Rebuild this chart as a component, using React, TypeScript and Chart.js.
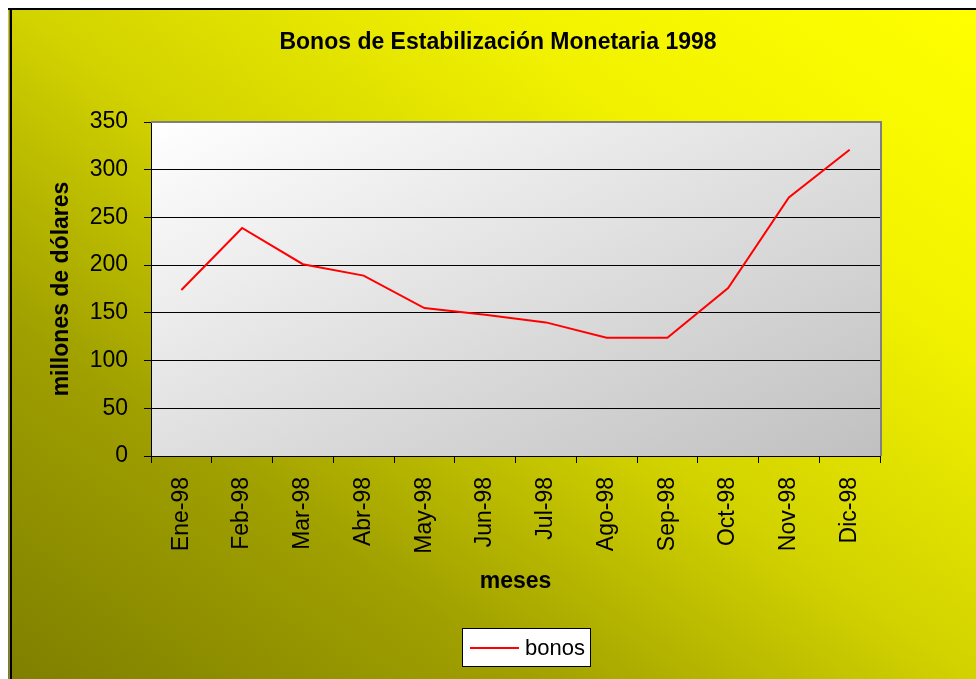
import React, { useEffect, useRef } from "react";
import { Chart, registerables } from "chart.js";

Chart.register(...registerables);

// ---- data ----
const TITLE = "Bonos de Estabilización Monetaria 1998";
const Y_TITLE = "millones de dólares";
const X_TITLE = "meses";
const SERIES_LABEL = "bonos";
const MONTHS = ["Ene-98", "Feb-98", "Mar-98", "Abr-98", "May-98", "Jun-98", "Jul-98", "Ago-98", "Sep-98", "Oct-98", "Nov-98", "Dic-98"];
const BONOS = [174, 239, 201, 189, 155, 148, 140, 124, 124, 176, 271, 321];
const Y_MIN = 0;
const Y_MAX = 350;
const Y_STEP = 50;

// ---- style ----
const W = 968;
const H = 671;
const FONT = "Arial, 'Liberation Sans', Helvetica, sans-serif";
const LINE_COLOR = "#ff0000";

const backgroundPlugin = {
  id: "excelBackground",
  beforeDraw(chart: any) {
    const ctx = chart.ctx as CanvasRenderingContext2D;
    const w = chart.width;
    const h = chart.height;
    ctx.save();
    // outer diagonal gradient: olive (bottom-left) -> yellow (top-right)
    const k = (2 * w * h) / (w * w + h * h);
    const g = ctx.createLinearGradient(0, h, h * k, h - w * k);
    g.addColorStop(0, "#7f7f00");
    g.addColorStop(0.27, "#a0a000");
    g.addColorStop(0.5, "#d2d200");
    g.addColorStop(0.75, "#f2f200");
    g.addColorStop(1, "#ffff00");
    ctx.fillStyle = g;
    ctx.fillRect(0, 0, w, h);
    // outer border (left & top visible)
    ctx.fillStyle = "#808060";
    ctx.fillRect(1, 0, 1, h);
    ctx.fillStyle = "#000";
    ctx.fillRect(2, 0, 2, h);
    ctx.fillRect(0, 0, w, 2);
    // plot area gradient: white (top-left) -> silver (bottom-right)
    const { left, top, right, bottom } = chart.chartArea;
    const pw = right - left;
    const ph = bottom - top;
    const pk = (2 * pw * ph) / (pw * pw + ph * ph);
    const pg = ctx.createLinearGradient(left, top, left + ph * pk, top + pw * pk);
    pg.addColorStop(0, "#ffffff");
    pg.addColorStop(1, "#c0c0c0");
    ctx.fillStyle = pg;
    ctx.fillRect(left, top, pw, ph);
    ctx.restore();
  },
  beforeDatasetsDraw(chart: any) {
    const ctx = chart.ctx as CanvasRenderingContext2D;
    const { left, top, right, bottom } = chart.chartArea;
    ctx.save();
    ctx.strokeStyle = "#808080";
    ctx.lineWidth = 2;
    ctx.beginPath();
    ctx.moveTo(left, top);
    ctx.lineTo(right + 1, top);
    ctx.lineTo(right + 1, bottom);
    ctx.stroke();
    ctx.restore();
  },
  afterDraw(chart: any) {
    const ctx = chart.ctx as CanvasRenderingContext2D;
    ctx.save();
    // title
    ctx.fillStyle = "#000";
    ctx.font = `bold 23px ${FONT}`;
    ctx.textAlign = "center";
    ctx.textBaseline = "middle";
    ctx.fillText(TITLE, 490, 35);
    // legend box
    const ds = chart.data.datasets[0];
    const bx = 454, by = 620, bw = 129, bh = 39;
    ctx.fillStyle = "#ffffff";
    ctx.fillRect(bx, by, bw, bh);
    ctx.strokeStyle = "#000";
    ctx.lineWidth = 1;
    ctx.strokeRect(bx + 0.5, by + 0.5, bw - 1, bh - 1);
    ctx.strokeStyle = ds.borderColor;
    ctx.lineWidth = 2;
    ctx.beginPath();
    ctx.moveTo(bx + 8, by + 20);
    ctx.lineTo(bx + 57, by + 20);
    ctx.stroke();
    ctx.fillStyle = "#000";
    ctx.font = `22px ${FONT}`;
    ctx.textAlign = "left";
    ctx.textBaseline = "middle";
    ctx.fillText(ds.label, bx + 63, by + 21);
    ctx.restore();
  },
};

export default function App() {
  const canvasRef = useRef<HTMLCanvasElement | null>(null);

  useEffect(() => {
    if (!canvasRef.current) return;
    const chart = new Chart(canvasRef.current, {
      type: "line",
      data: {
        labels: MONTHS,
        datasets: [
          {
            label: SERIES_LABEL,
            data: BONOS,
            borderColor: LINE_COLOR,
            backgroundColor: LINE_COLOR,
            borderWidth: 2,
            pointRadius: 0,
            pointHoverRadius: 0,
            tension: 0,
            fill: false,
          },
        ],
      },
      options: {
        responsive: false,
        animation: false,
        devicePixelRatio: 1,
        layout: { padding: { top: 114, right: 96, bottom: 0, left: 0 } },
        plugins: {
          legend: { display: false },
          title: { display: false },
          tooltip: { enabled: false },
        },
        scales: {
          x: {
            type: "category",
            offset: true,
            grid: {
              display: true,
              offset: true,
              drawOnChartArea: false,
              drawTicks: true,
              tickLength: 7,
              tickColor: "#000",
              color: "#000",
            },
            border: { display: true, color: "#000", width: 1 },
            ticks: {
              color: "#000",
              font: { family: FONT, size: 23 },
              minRotation: 90,
              maxRotation: 90,
              autoSkip: false,
              padding: 14,
            },
            title: {
              display: true,
              text: X_TITLE,
              color: "#000",
              font: { family: FONT, size: 23, weight: "bold" },
              padding: { top: 0, bottom: 84 },
            },
            afterFit: (s: any) => {
              s.height = 223;
            },
          },
          y: {
            min: Y_MIN,
            max: Y_MAX,
            ticks: {
              stepSize: Y_STEP,
              color: "#000",
              font: { family: FONT, size: 23 },
              padding: 16,
            },
            grid: {
              color: "#000",
              tickColor: "#000",
              tickLength: 7,
              drawTicks: true,
              lineWidth: 1,
            },
            border: { display: true, color: "#000", width: 1 },
            title: {
              display: true,
              text: Y_TITLE,
              color: "#000",
              font: { family: FONT, size: 23, weight: "bold" },
              padding: { top: 40, bottom: 0 },
            },
            afterFit: (s: any) => {
              s.width = 143;
            },
          },
        },
      },
      plugins: [backgroundPlugin],
    });
    return () => chart.destroy();
  }, []);

  return (
    <div style={{ position: "absolute", left: 8, top: 8, width: W, height: H }}>
      <canvas ref={canvasRef} width={W} height={H} style={{ display: "block", width: W, height: H }} />
    </div>
  );
}
